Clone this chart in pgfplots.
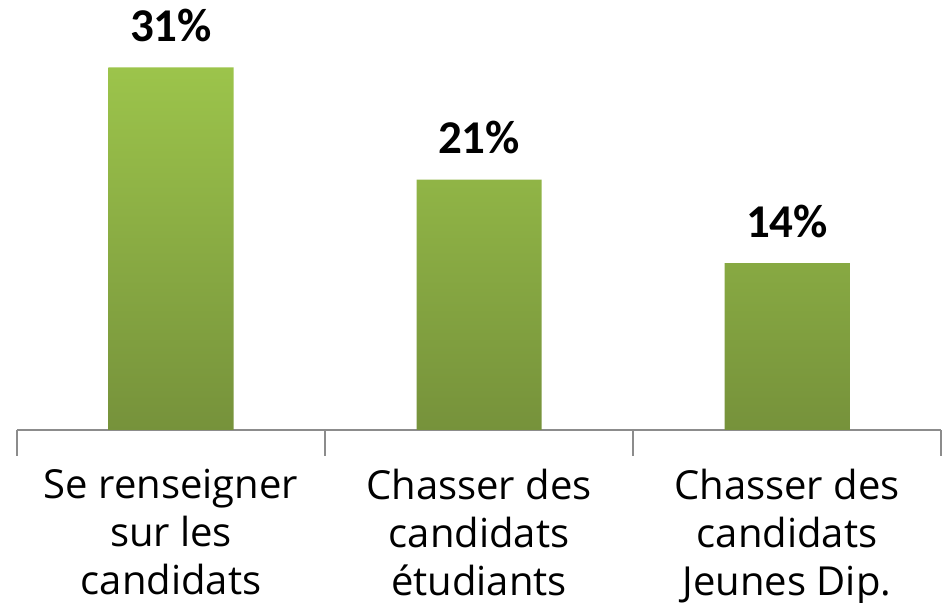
\documentclass[border=0pt]{standalone}
\usepackage{pgfplots}
\pgfplotsset{compat=1.18}
\usepackage{fontspec}
\setmainfont{Open Sans}
\newfontfamily\lblfont{Carlito}
\definecolor{gtop}{HTML}{9CC44B}
\definecolor{gbot}{HTML}{76923B}
\definecolor{axgray}{HTML}{8C8C8C}
\begin{document}
\begin{tikzpicture}
\begin{axis}[
  name=ax,
  at={(0,0)}, anchor=south west,
  scale only axis, width=462pt, height=215pt,
  xmin=-0.5, xmax=2.5, ymin=0, ymax=36.05,
  axis y line=none,
  axis x line*=bottom,
  x axis line style={axgray, line width=0.8pt, -},
  xtick={0,1,2},
  xticklabels={Se renseigner\\sur les\\candidats, Chasser des\\candidats\\étudiants, Chasser des\\candidats\\Jeunes Dip.},
  xticklabel style={align=center, font=\fontsize{20}{24}\selectfont, text=black, yshift=-16pt},
  major tick length=0pt,
  extra x ticks={-0.5,0.5,1.5,2.5},
  extra x tick labels={},
  extra x tick style={major tick length=13pt, tick style={axgray, line width=0.8pt}, tick align=outside},
  clip=false,
  point meta=explicit symbolic,
  nodes near coords={\pgfplotspointmeta\%},
  nodes near coords style={font=\lblfont\bfseries\fontsize{23.5}{26}\selectfont, text=black, anchor=base, inner sep=0pt, yshift=13pt},
]
\addplot[ybar, bar width=62.5pt, draw=none, top color=gtop, bottom color=gbot] coordinates {(0,30.4)[31] (1,21)[21] (2,14)[14]};
\end{axis}
\pgfresetboundingbox
\path (ax.south west) ++(-8.5pt,-86.5pt) coordinate (bl);
\path (bl) rectangle ++(474pt,301.5pt);
\end{tikzpicture}
\end{document}
